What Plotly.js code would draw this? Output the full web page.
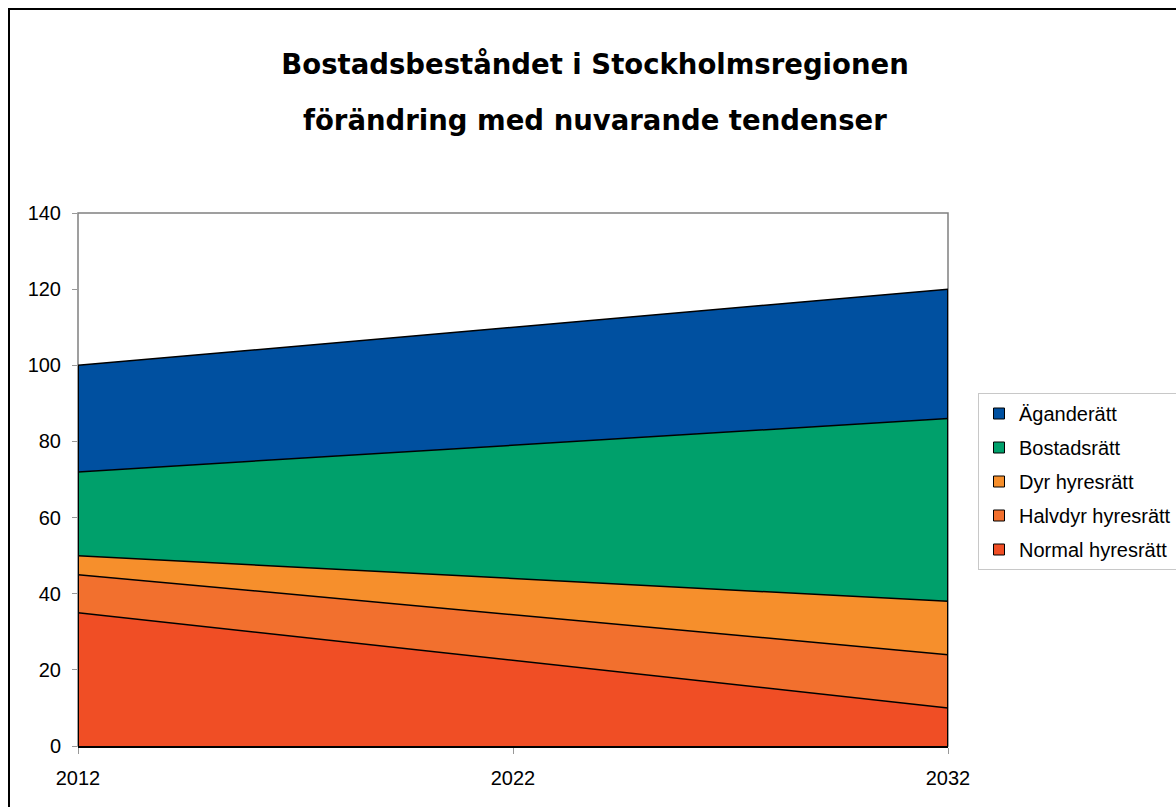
<!DOCTYPE html>
<html>
<head>
<meta charset="utf-8">
<script src="https://cdn.plot.ly/plotly-3.0.1.min.js"></script>
<style>
  html, body { margin: 0; padding: 0; background: #fff; overflow: hidden; }
  #chart { width: 1176px; height: 807px; }
  #frame { position: absolute; left: 8px; top: 8px; width: 1300px; height: 900px; border: 2px solid #000; pointer-events: none; }
</style>
</head>
<body>
<div id="chart"></div>
<div id="frame"></div>
<script>
const years = [2012, 2022, 2032];
const normalHyresratt = [35, 22.5, 10];
const halvdyrHyresratt = [10, 12, 14];
const dyrHyresratt = [5, 9.5, 14];
const bostadsratt = [22, 35, 48];
const aganderatt = [28, 31, 34];

const seriesNames = ['Normal hyresrätt', 'Halvdyr hyresrätt', 'Dyr hyresrätt', 'Bostadsrätt', 'Äganderätt'];
const seriesValues = [normalHyresratt, halvdyrHyresratt, dyrHyresratt, bostadsratt, aganderatt];
const seriesColors = ['#F04E25', '#F2702E', '#F68F2C', '#00A06B', '#0050A0'];

const traces = [];
seriesNames.forEach((name, i) => {
  traces.push({
    type: 'scatter', mode: 'lines', x: years, y: seriesValues[i],
    stackgroup: 'one', fillcolor: seriesColors[i],
    line: { color: '#000', width: 1.5, shape: 'linear' },
    showlegend: false, hoverinfo: 'skip', name: name
  });
});
// Left/right outline of the stacked area, derived from the data
const totals = years.map((_, j) => seriesValues.reduce((s, arr) => s + arr[j], 0));
const first = 0, last = years.length - 1;
traces.push({
  type: 'scatter', mode: 'lines',
  x: [years[first], years[first], null, years[last], years[last]],
  y: [0, totals[first], null, 0, totals[last]],
  line: { color: '#000', width: 2 }, showlegend: false, hoverinfo: 'skip'
});
// Legend entries (square markers), top entry = last series
for (let i = seriesNames.length - 1; i >= 0; i--) {
  traces.push({
    type: 'scatter', mode: 'markers', x: [null], y: [null], name: seriesNames[i],
    legendgroup: 'g' + i,
    marker: { symbol: 'square', size: 11, color: seriesColors[i], line: { color: '#000', width: 1 } },
    showlegend: true
  });
}

const titleFont = { family: 'DejaVu Sans, sans-serif', size: 27.5, weight: 'bold', color: '#000' };

const layout = {
  width: 1176, height: 807,
  margin: { l: 78, r: 228, t: 213, b: 61 },
  paper_bgcolor: '#fff', plot_bgcolor: '#fff',
  font: { family: 'Liberation Sans, Arial, sans-serif', size: 20, color: '#000' },
  title: {
    text: 'Bostadsbeståndet i Stockholmsregionen',
    font: titleFont,
    x: 0.506, xanchor: 'center', xref: 'container',
    y: 1 - 64 / 807, yanchor: 'middle', yref: 'container'
  },
  annotations: [{
    text: 'förändring med nuvarande tendenser',
    font: titleFont,
    xref: 'paper', yref: 'paper', x: (595 - 78) / 870, y: 1 + (213 - 120) / 533,
    xanchor: 'center', yanchor: 'middle', showarrow: false
  }],
  shapes: [{
    type: 'rect', xref: 'paper', yref: 'paper', x0: 0, x1: 1, y0: 0, y1: 1,
    line: { color: '#808080', width: 1.5 }, layer: 'below'
  }],
  xaxis: {
    range: [2012, 2032], tickvals: years, ticktext: years.map(String),
    showgrid: false, zeroline: false, showline: true, linecolor: '#000', linewidth: 2,
    ticks: 'outside', ticklen: 6, tickcolor: '#999', tickwidth: 1,
    ticklabelstandoff: 7, tickfont: { size: 20 }
  },
  yaxis: {
    range: [0, 140], dtick: 20, tick0: 0,
    showgrid: false, zeroline: false, showline: false,
    ticks: 'outside', ticklen: 5, tickcolor: '#999', tickwidth: 1,
    ticklabelstandoff: 7, tickfont: { size: 20 }
  },
  legend: {
    x: 978 / 1176, xref: 'container', y: 1 - 393 / 807, yref: 'container',
    xanchor: 'left', yanchor: 'top',
    bgcolor: '#fff', bordercolor: '#c8c8c8', borderwidth: 1,
    traceorder: 'grouped', tracegroupgap: 5,
    font: { size: 20, color: '#000' }
  },
  showlegend: true
};

Plotly.newPlot('chart', traces, layout, { displayModeBar: false, staticPlot: true });
</script>
</body>
</html>
